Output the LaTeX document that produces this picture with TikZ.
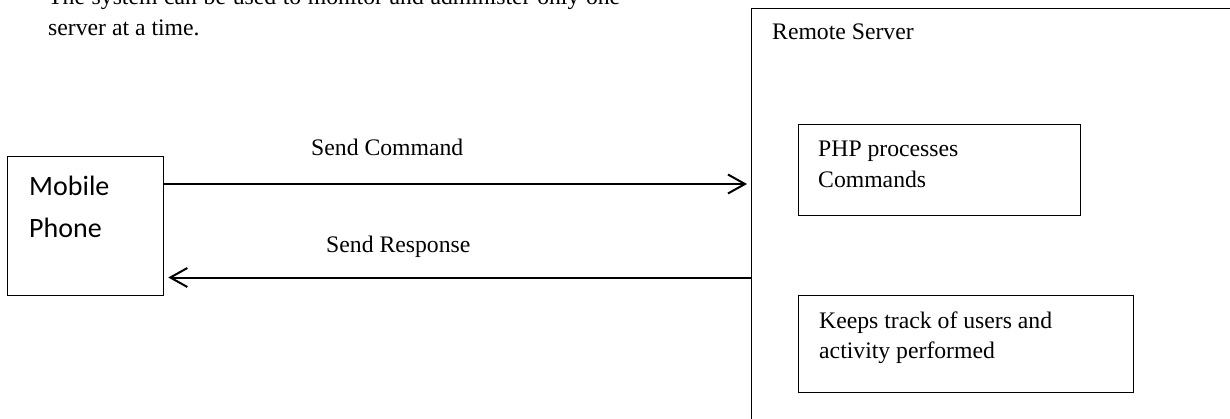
\documentclass[tikz,border=0pt]{standalone}
\usepackage{fontspec}
\setmainfont{Liberation Serif}
\newfontfamily\calib{Carlito}
\usetikzlibrary{arrows.meta,calc}
\begin{document}
\begin{tikzpicture}[x=1pt,y=-1pt,
  box/.style={draw,line width=1.3pt,inner sep=0pt,anchor=north west},
  arr/.style={line width=2pt,-{Straight Barb[length=17pt,width=19pt]},shorten >=4pt},
  txt/.style={inner sep=0pt,anchor=base west,font=\fontsize{23.7}{31}\selectfont},
  sans/.style={inner sep=0pt,anchor=base west,font=\calib\fontsize{28}{42}\selectfont},
]
\clip (0,0) rectangle (1230,418);
\fill[white] (0,0) rectangle (1230,418);
% caption text
\node[txt] (cap1) at (48,4) {\makebox[572pt][s]{The system can be used to monitor and administer only one}};
\node[txt] (cap2) at (48,35) {server at a time.};
% mobile phone
\node[box,minimum width=156pt,minimum height=139pt] (mob) at (7,156) {};
\node[sans] (mobt1) at (29,195) {Mobile};
\node[sans] (mobt2) at (29,237) {Phone};
% remote server
\node[box,minimum width=520pt,minimum height=440pt] (srv) at (751,7.5) {};
\node[txt] (srvt) at (772,39) {Remote Server};
\node[box,minimum width=282pt,minimum height=91pt] (php) at (798,124) {};
\node[txt] (phpt1) at (818,156) {PHP processes};
\node[txt] (phpt2) at (818,187) {Commands};
\node[box,minimum width=335pt,minimum height=97pt] (keep) at (798,295) {};
\node[txt] (keept1) at (819,328) {Keeps track of users and};
\node[txt] (keept2) at (819,358) {activity performed};
% connectors
\coordinate (ya) at (0,184);
\coordinate (yb) at (0,277.5);
\draw[arr] (mob.east |- ya) -- (srv.west |- ya);
\draw[arr] (srv.west |- yb) -- (mob.east |- yb);
\node[txt] (l1) at (311,155) {Send Command};
\node[txt] (l2) at (326,252) {Send Response};
\end{tikzpicture}
\end{document}
